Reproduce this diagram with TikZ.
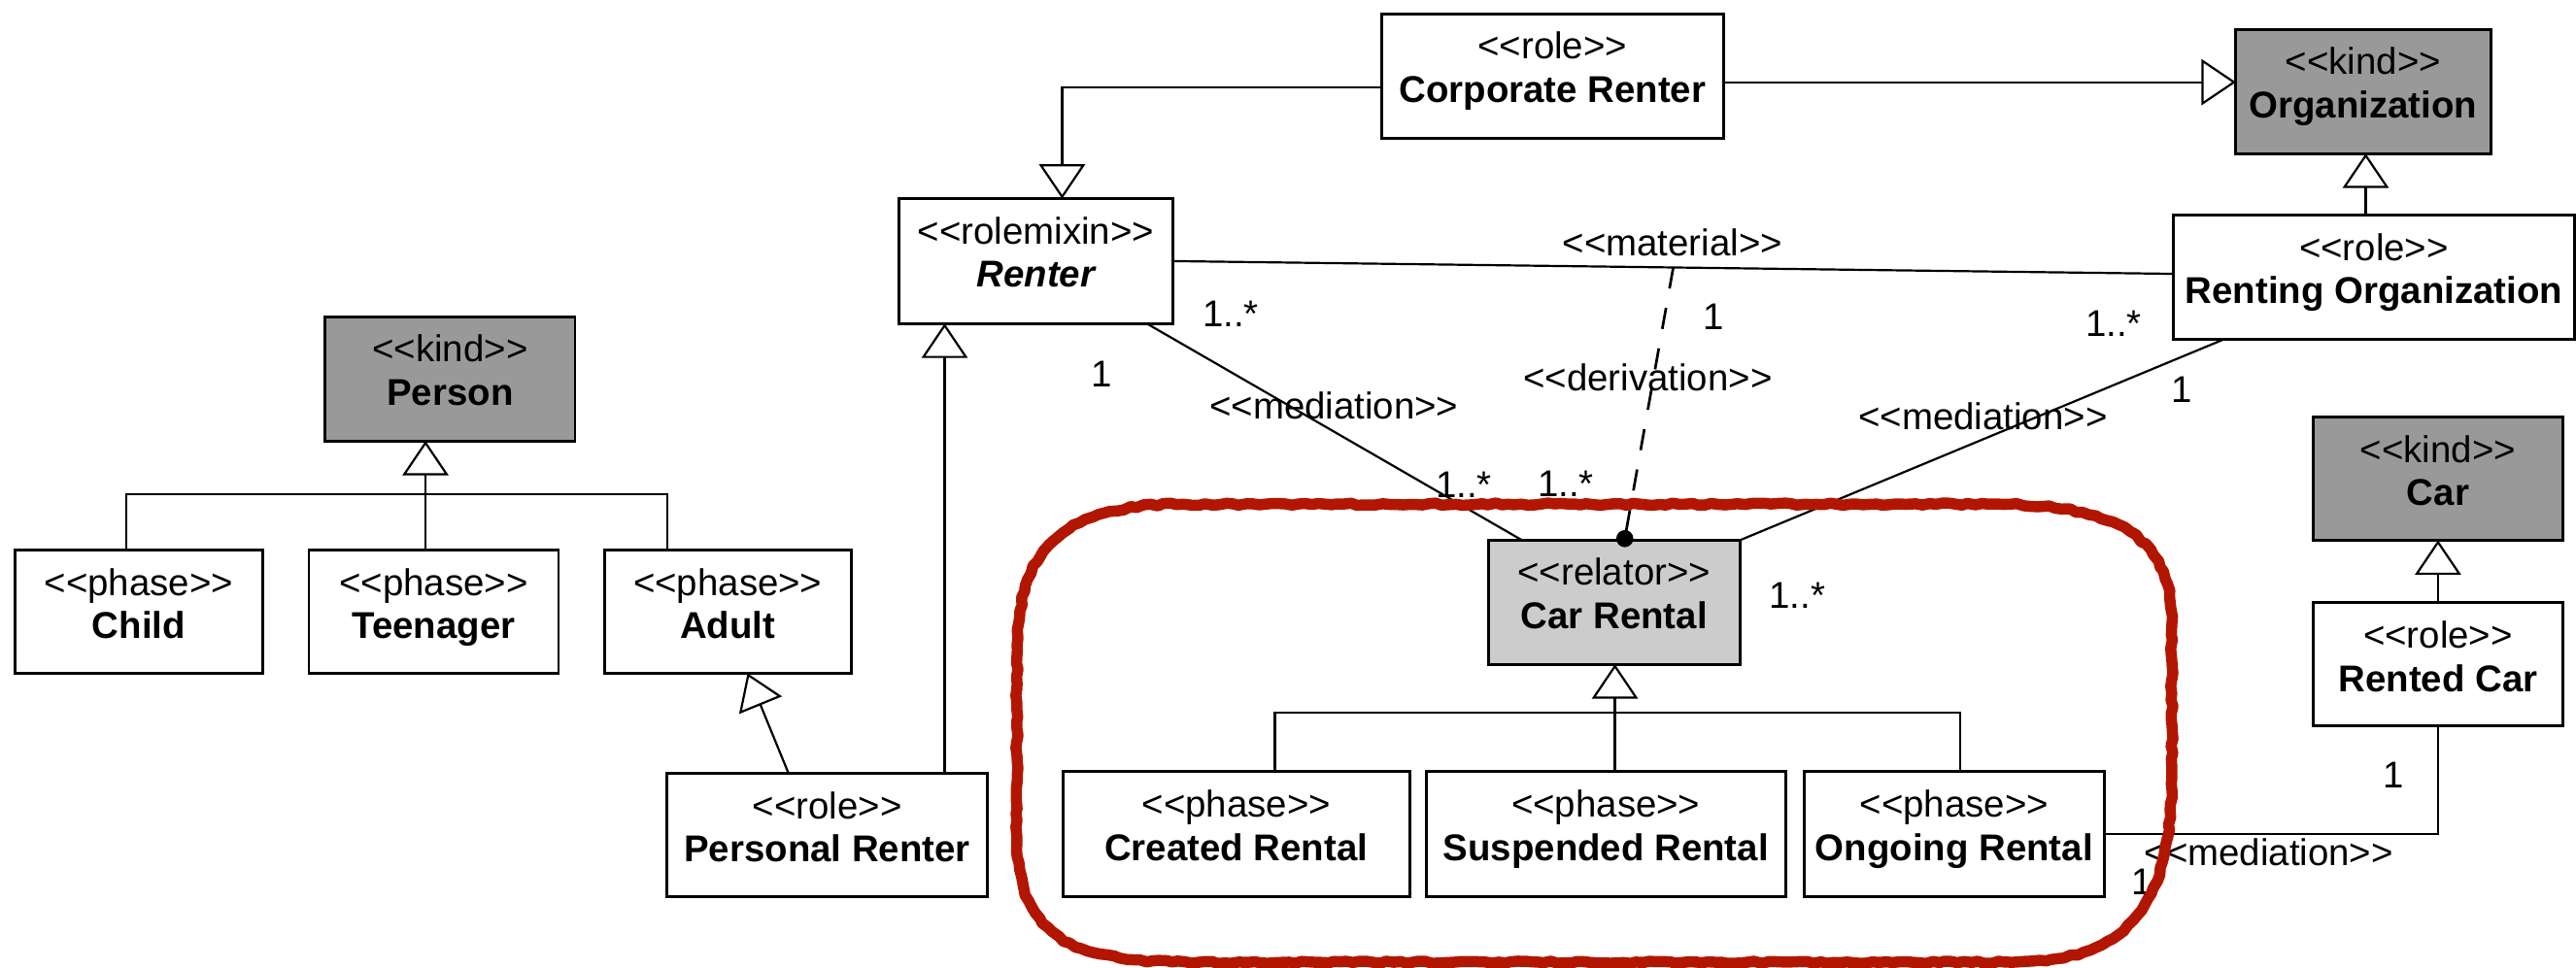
\documentclass[tikz,border=0pt]{standalone}
\usepackage{fontspec}
\setmainfont{Liberation Sans}
\usetikzlibrary{arrows.meta,calc,decorations.pathmorphing}

\definecolor{kindgray}{RGB}{153,153,153}
\definecolor{relgray}{RGB}{204,204,204}
\definecolor{markred}{RGB}{178,22,0}

% guillemets written as two separate characters (no tex-text ligature)
\newcommand\stl{<\kern0pt<}
\newcommand\stg{>\kern0pt>}
\newcommand\umlfont{\fontsize{11.35}{13.25}\selectfont}

\tikzset{
  uml/.style={draw=black, line width=0.85pt, fill=white, inner sep=0pt, outer sep=0pt},
  kind/.style={uml, fill=kindgray},
  relator/.style={uml, fill=relgray},
  stereo/.style={inner sep=0pt, font=\umlfont},
  cname/.style={inner sep=0pt, font=\umlfont\bfseries},
  lbl/.style={inner sep=0pt, anchor=base, font=\umlfont},
  conn/.style={line width=0.65pt, draw=black},
  gen/.style={conn, -{Triangle[open, fill=white, length=10.5pt, width=14pt]}},
  deriv/.style={conn, line width=0.8pt, dash pattern=on 6.5pt off 6pt},
  loopline/.style={draw=markred, line width=3.4pt, line join=round, line cap=round},
}

% \umlbox[style]{name}{x1}{y1}{x2}{y2}{stereotype}{class name}
\newcommand\umlbox[8][uml]{%
  \node[#1, minimum width={(#5-#3)*0.5pt}, minimum height={(#6-#4)*0.5pt}]
    (#2) at ({(#3+#5)/2},{(#4+#6)/2}) {};
  \node[stereo, anchor=base] (#2-s) at ([yshift=-13.75pt]#2.north) {\stl#7\stg};
  \node[cname, anchor=base] (#2-n) at ([yshift=-27pt]#2.north) {#8};
}

\begin{document}
\begin{tikzpicture}[x=0.5pt, y=-0.5pt]
\useasboundingbox (0,0) rectangle (1568,589);

% ---------- classes ----------
\umlbox[kind]{person}{198}{193}{350}{268.5}{kind}{Person}
\umlbox{child}{9}{335}{160}{410}{phase}{Child}
\umlbox{teen}{188}{335}{340}{410}{phase}{Teenager}
\umlbox{adult}{368}{335}{518}{410}{phase}{Adult}
\umlbox{prenter}{406}{471}{601}{546}{role}{Personal Renter}
\umlbox{renter}{547}{121}{714}{197}{rolemixin}{\itshape Renter}
\umlbox{corp}{841}{8.5}{1049}{84}{role}{Corporate Renter}
\umlbox[kind]{org}{1361}{18}{1516}{93.5}{kind}{Organization}
\umlbox{rorg}{1323}{131}{1567}{206.5}{role}{Renting Organization}
\umlbox[relator]{rental}{906}{329}{1059}{404.5}{relator}{Car Rental}
\umlbox{created}{647}{470}{858}{546}{phase}{Created Rental}
\umlbox{susp}{868}{470}{1087}{546}{phase}{Suspended Rental}
\umlbox{ongoing}{1098}{470}{1281}{546}{phase}{Ongoing Rental}
\umlbox[kind]{car}{1408}{254}{1560}{329}{kind}{Car}
\umlbox{rcar}{1408}{367}{1560}{442}{role}{Rented Car}

% ---------- helper positions ----------
\coordinate (x77) at (77,0);
\coordinate (x259) at (259,0);
\coordinate (x406) at (406,0);
\coordinate (x455) at (455,0);
\coordinate (x480) at (480,0);
\coordinate (x575) at (575,0);
\coordinate (x646) at (646.5,0);
\coordinate (x698) at (698,0);
\coordinate (x926) at (926.5,0);
\coordinate (x776) at (776,0);
\coordinate (x983) at (983,0);
\coordinate (x1193) at (1193,0);
\coordinate (x1354) at (1354,0);
\coordinate (x1440) at (1440,0);
\coordinate (x1484) at (1484,0);
\coordinate (pbar) at (0,301);
\coordinate (cbar) at (0,434);

% ---------- generalizations ----------
\draw[conn] (x77 |- child.north) |- (x406 |- pbar) -- (x406 |- adult.north);
\draw[gen] (x259 |- teen.north) -- (x259 |- person.south);

\draw[gen] (x480 |- prenter.north) -- (x455 |- adult.south);
\draw[gen] (x575 |- prenter.north) -- (x575 |- renter.south);

\draw[gen] ([yshift=-3.5pt]corp.west) -| (x646 |- renter.north);
\draw[gen] ([yshift=-1.9pt]corp.east) -- ([yshift=-1.9pt]corp.east -| org.west);
\draw[gen] (x1440 |- rorg.north) -- (x1440 |- org.south);

\draw[conn] (x776 |- created.north) |- (x1193 |- cbar) -- (x1193 |- ongoing.north);
\draw[gen] (x983 |- susp.north) -- (x983 |- rental.south);

\draw[gen] (x1484 |- rcar.north) -- (x1484 |- car.south);

% ---------- associations ----------
\coordinate (matA) at (renter.east);
\coordinate (matB) at ([yshift=1pt]rorg.west);
\draw[conn] (matA) -- (matB);
\coordinate (matmid) at ($(matA)!0.5!(matB)$);
\coordinate (derend) at ([xshift=3.25pt,yshift=0.5pt]rental.north);
\draw[deriv] (matmid) -- (derend);
\fill (derend) circle (2.6pt);

\draw[conn] (x698 |- renter.south) -- (x926 |- rental.north);
\draw[conn] (x1354 |- rorg.south) -- (rental.north east);
\draw[conn] (ongoing.east) -| (x1484 |- rcar.south);

% ---------- association labels ----------
\node[lbl] (l-mat) at (1018,155.5) {\stl material\stg};
\node[lbl] (l-m1) at (749,199) {1..*};
\node[lbl] (l-m2) at (1043,201) {1};
\node[lbl] (l-der) at (1003,238) {\stl derivation\stg};
\node[lbl] (l-r1) at (670.5,235.5) {1};
\node[lbl] (l-med1) at (812,255) {\stl mediation\stg};
\node[lbl] (l-r2) at (891,303) {1..*};
\node[lbl] (l-d1) at (953,302.5) {1..*};
\node[lbl] (l-o1) at (1286.5,205) {1..*};
\node[lbl] (l-o2) at (1328,245) {1};
\node[lbl] (l-med2) at (1207,261.5) {\stl mediation\stg};
\node[lbl] (l-c1) at (1094,370.5) {1..*};
\node[lbl] (l-c2) at (1457,480) {1};
\node[lbl] (l-med3) at (1381,527) {\stl mediation\stg};
\node[lbl] (l-c3) at (1304,545) {1};

% ---------- hand-drawn highlight around the relator ----------
\draw[loopline, decorate, decoration={random steps, segment length=2pt, amplitude=0.35pt}]
  (619,400) -- (619,510)
  .. controls (619,590) and (680,586) .. (760,586)
  -- (1225,586)
  .. controls (1305,586) and (1322,540) .. (1322,470)
  -- (1322,380)
  .. controls (1322,322) and (1282,307) .. (1210,307)
  -- (720,307)
  .. controls (640,307) and (619,340) .. (619,400) -- cycle;
\end{tikzpicture}
\end{document}
